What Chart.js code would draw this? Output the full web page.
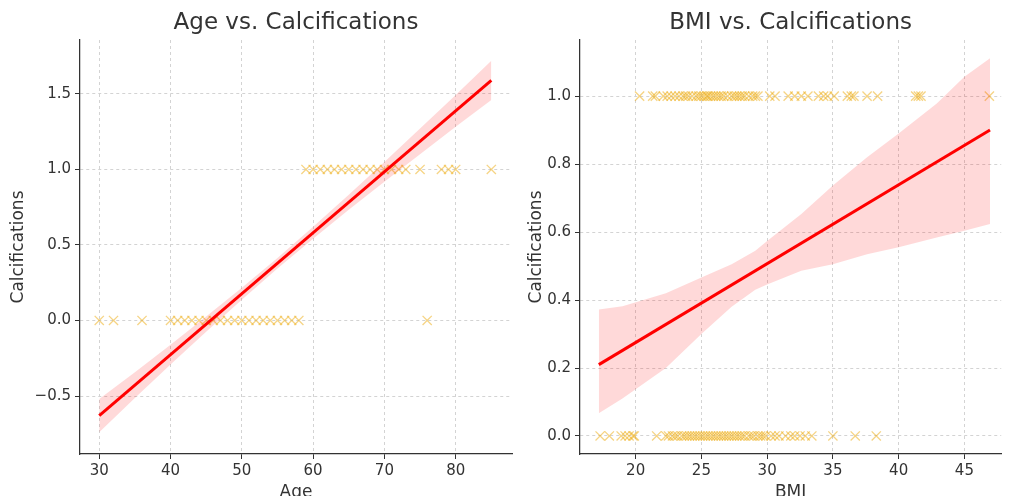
<!DOCTYPE html>
<html>
<head>
<meta charset="utf-8">
<script src="https://cdn.jsdelivr.net/npm/chart.js@4.4.1/dist/chart.umd.min.js"></script>
<style>
  body { margin: 0; background: #fff; }
  #wrap { position: relative; width: 1009px; height: 496px; overflow: hidden; }
  canvas { position: absolute; top: 0; }
</style>
</head>
<body>
<div id="wrap">
  <canvas id="chartAge" width="520" height="496" style="left:0"></canvas>
  <canvas id="chartBmi" width="489" height="496" style="left:520px"></canvas>
</div>
<script>
// ---------- Age vs. Calcifications ----------
const ageNo  = [30, 32, 36, 40, 41, 42, 43, 44, 45, 46, 47, 48, 49, 50, 51, 52, 53, 54, 55, 56, 57, 58, 76];
const ageYes = [59, 60, 61, 62, 63, 64, 65, 66, 67, 68, 69, 70, 71, 72, 73, 75, 78, 79, 80, 85];
const ageFitX = [30, 85];
const ageFitY = [-0.63, 1.59];
const ageBandX     = [30, 35, 40, 45, 50, 55, 60, 65, 70, 75, 80, 85];
const ageBandUpper = [-0.52, -0.343, -0.161, 0.026, 0.217, 0.414, 0.621, 0.833, 1.049, 1.271, 1.493, 1.72];
const ageBandLower = [-0.74, -0.513, -0.291, -0.074, 0.137, 0.344, 0.541, 0.733, 0.919, 1.101, 1.283, 1.46];
const ageXTicks = [30, 40, 50, 60, 70, 80];
const ageYTicks = [-0.5, 0, 0.5, 1.0, 1.5];

// ---------- BMI vs. Calcifications ----------
const bmiYes = [20.3, 21.3, 21.5, 22.1, 22.4, 22.7, 23.0, 23.3, 23.6, 23.8, 24.0, 24.3, 24.6, 24.8,
  25.0, 25.2, 25.4, 25.5, 25.7, 25.9, 26.1, 26.3, 26.5, 26.7, 27.0, 27.3, 27.5, 27.7, 27.9, 28.1,
  28.3, 28.6, 28.9, 29.1, 29.3, 30.2, 30.6, 31.6, 32.1, 32.6, 33.1, 33.9, 34.3, 34.6, 35.1, 36.1,
  36.4, 36.6, 37.6, 38.4, 41.3, 41.5, 41.7, 46.9];
const bmiNo = [17.3, 18.0, 18.9, 19.2, 19.5, 19.8, 19.9, 21.6, 22.3, 22.5, 22.8, 23.0, 23.2, 23.5,
  23.7, 23.9, 24.1, 24.3, 24.5, 24.7, 24.9, 25.1, 25.3, 25.5, 25.7, 25.9, 26.1, 26.3, 26.5, 26.7,
  26.9, 27.1, 27.3, 27.5, 27.7, 27.9, 28.1, 28.3, 28.6, 28.8, 29.0, 29.3, 29.5, 29.7, 29.9, 30.3,
  30.6, 30.9, 31.4, 31.8, 32.1, 32.5, 32.9, 33.4, 35.0, 36.7, 38.3];
const bmiFitX = [17.2, 46.95];
const bmiFitY = [0.21, 0.90];
const bmiBandX     = [17.2, 19.0, 22.3, 25.0, 27.3, 29.1, 30.0, 32.6, 35.0, 37.6, 40.0, 42.9, 45.0, 46.95];
const bmiBandUpper = [0.372, 0.382, 0.42, 0.466, 0.505, 0.545, 0.574, 0.653, 0.737, 0.82, 0.89, 0.978, 1.057, 1.111];
const bmiBandLower = [0.067, 0.11, 0.20, 0.30, 0.38, 0.43, 0.446, 0.486, 0.505, 0.535, 0.555, 0.584, 0.604, 0.624];
const bmiXTicks = [20, 25, 30, 35, 40, 45];
const bmiYTicks = [0, 0.2, 0.4, 0.6, 0.8, 1.0];

const FONT = "'DejaVu Sans', sans-serif";
const INK = '#333333';

const pts = (xs, ys) => xs.map((x, i) => ({ x, y: Array.isArray(ys) ? ys[i] : ys }));

// titre centré sur la zone du graphique (comme matplotlib)
const axesTitle = {
  id: 'axesTitle',
  afterDraw(chart, args, opts) {
    const { ctx, chartArea } = chart;
    ctx.save();
    ctx.font = "23px " + FONT;
    ctx.fillStyle = INK;
    ctx.textAlign = 'center';
    ctx.textBaseline = 'middle';
    ctx.fillText(opts.text, (chartArea.left + chartArea.right) / 2, 23);
    ctx.restore();
  }
};

function makeChart(id, o) {
  const ctx = document.getElementById(id).getContext('2d');
  return new Chart(ctx, {
    type: 'scatter',
    data: {
      datasets: [
        {
          data: pts(o.fitX, o.fitY),
          showLine: true,
          borderColor: '#ff0000',
          borderWidth: 3,
          pointRadius: 0
        },
        {
          data: pts(o.bandX, o.upper),
          showLine: true,
          borderWidth: 0,
          borderColor: 'rgba(0,0,0,0)',
          pointRadius: 0,
          fill: '+1',
          backgroundColor: 'rgba(255,0,0,0.15)'
        },
        {
          data: pts(o.bandX, o.lower),
          showLine: true,
          borderWidth: 0,
          borderColor: 'rgba(0,0,0,0)',
          pointRadius: 0
        },
        {
          data: pts(o.yes, 1).concat(pts(o.no, 0)),
          pointStyle: 'crossRot',
          pointRadius: 6.5,
          borderWidth: 1.3,
          borderColor: 'rgba(238,170,10,0.5)',
          backgroundColor: 'rgba(238,170,10,0.5)'
        }
      ]
    },
    options: {
      responsive: false,
      animation: false,
      layout: { padding: { top: 40, right: o.padRight, left: 0, bottom: 0 } },
      plugins: {
        legend: { display: false },
        tooltip: { enabled: false },
        axesTitle: { text: o.title }
      },
      scales: {
        x: {
          type: 'linear',
          min: o.xMin,
          max: o.xMax,
          afterBuildTicks: s => { s.ticks = o.xTicks.map(v => ({ value: v })); },
          afterFit: s => { s.height = 42; },
          grid: { color: '#d3d3d3', tickColor: INK, tickLength: 5 },
          border: { display: true, color: INK, width: 1.25, dash: [3, 3] },
          ticks: { color: INK, font: { size: 15, family: FONT }, padding: 3, maxRotation: 0 },
          title: {
            display: true, text: o.xLabel, color: INK,
            font: { size: 17, family: FONT, lineHeight: 1.2 },
            padding: { top: 0, bottom: -7 }
          }
        },
        y: {
          min: o.yMin,
          max: o.yMax,
          afterBuildTicks: s => { s.ticks = o.yTicks.map(v => ({ value: v })); },
          afterFit: s => { s.width = o.yWidth; },
          grid: { color: '#d3d3d3', tickColor: INK, tickLength: 5 },
          border: { display: true, color: INK, width: 1.25, dash: [3, 3] },
          ticks: {
            color: INK, font: { size: 15, family: FONT }, padding: 4,
            callback: v => (v < 0 ? '\u2212' : '') + Math.abs(v).toFixed(1)
          },
          title: {
            display: true, text: 'Calcifications', color: INK,
            font: { size: 17, family: FONT, lineHeight: 1.2 },
            padding: { top: o.yTitlePad, bottom: 0 }
          }
        }
      }
    },
    plugins: [axesTitle]
  });
}

makeChart('chartAge', {
  title: 'Age vs. Calcifications', xLabel: 'Age',
  yes: ageYes, no: ageNo,
  fitX: ageFitX, fitY: ageFitY,
  bandX: ageBandX, upper: ageBandUpper, lower: ageBandLower,
  xTicks: ageXTicks, yTicks: ageYTicks,
  xMin: 27.3, xMax: 87.9, yMin: -0.884, yMax: 1.857,
  yWidth: 80, padRight: 8, yTitlePad: 8
});

makeChart('chartBmi', {
  title: 'BMI vs. Calcifications', xLabel: 'BMI',
  yes: bmiYes, no: bmiNo,
  fitX: bmiFitX, fitY: bmiFitY,
  bandX: bmiBandX, upper: bmiBandUpper, lower: bmiBandLower,
  xTicks: bmiXTicks, yTicks: bmiYTicks,
  xMin: 15.77, xMax: 47.8, yMin: -0.053, yMax: 1.165,
  yWidth: 60, padRight: 5, yTitlePad: 6
});
</script>
</body>
</html>
